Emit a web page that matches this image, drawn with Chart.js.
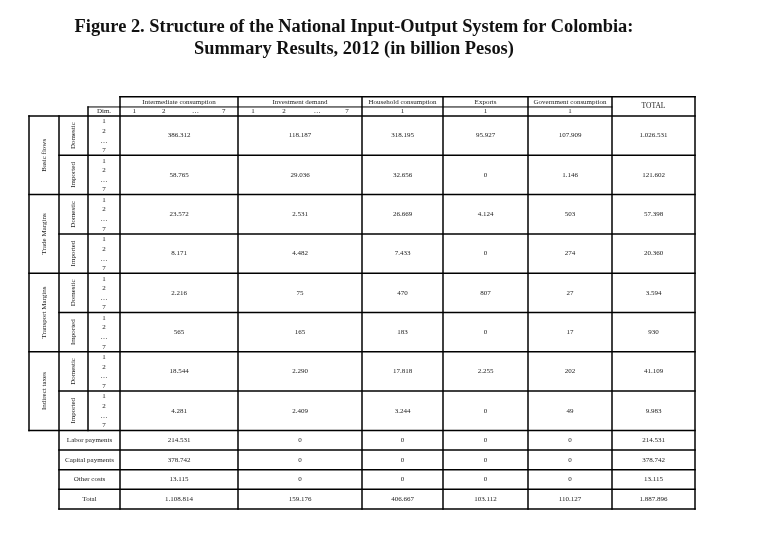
<!DOCTYPE html>
<html>
<head>
<meta charset="utf-8">
<script src="https://cdn.jsdelivr.net/npm/chart.js@4.4.1/dist/chart.umd.min.js"></script>
<style>
  body { margin: 0; background: #fff; }
  #wrap { position: relative; width: 757px; height: 554px; }
  #title {
    position: absolute; left: 0; top: 15px; width: 708px;
    text-align: center; font: bold 18.4px/22px "Liberation Serif", "DejaVu Serif", serif; color: #111;
  }
  canvas { position: absolute; left: 0; top: 0; }
</style>
</head>
<body>
<div id="wrap">
  <canvas id="io-table" width="757" height="554"></canvas>
  <div id="title">Figure 2. Structure of the National Input-Output System for Colombia:<br>Summary Results, 2012 (in billion Pesos)</div>
</div>
<script>
'use strict';

// Table content (billion pesos)
const columns = ['Intermediate consumption', 'Investment demand', 'Household consumption', 'Exports', 'Government consumption', 'TOTAL'];
const columnDims = [['1', '2', '…', '7'], ['1', '2', '…', '7'], ['1'], ['1'], ['1'], []];
const groups = ['Basic flows', 'Trade Margins', 'Transport Margins', 'Indirect taxes'];
const origins = ['Domestic', 'Imported'];
const rowDims = ['1', '2', '…', '7'];
const summaryRows = ['Labor payments', 'Capital payments', 'Other costs', 'Total'];

const basicDomestic = [386312, 118187, 318195, 95927, 107909, 1026531];
const basicImported = [58765, 29036, 32656, 0, 1146, 121602];
const tradeDomestic = [23572, 2531, 26669, 4124, 503, 57398];
const tradeImported = [8171, 4482, 7433, 0, 274, 20360];
const transportDomestic = [2216, 75, 470, 807, 27, 3594];
const transportImported = [565, 165, 183, 0, 17, 930];
const taxesDomestic = [18544, 2290, 17818, 2255, 202, 41109];
const taxesImported = [4281, 2409, 3244, 0, 49, 9983];
const laborPayments = [214531, 0, 0, 0, 0, 214531];
const capitalPayments = [378742, 0, 0, 0, 0, 378742];
const otherCosts = [13115, 0, 0, 0, 0, 13115];
const totals = [1108814, 159176, 406667, 103112, 110127, 1887896];

const blockRows = [basicDomestic, basicImported, tradeDomestic, tradeImported,
  transportDomestic, transportImported, taxesDomestic, taxesImported];
const footRows = [laborPayments, capitalPayments, otherCosts, totals];

document.addEventListener('DOMContentLoaded', function () {
  // layout (x in nominal px units, y in block units)
  const colWidths = [118, 124, 81, 85, 84, 83];
  const colEdges = [0];
  colWidths.forEach(function (w) { colEdges.push(colEdges[colEdges.length - 1] + w); });
  const xRight = colEdges[colEdges.length - 1];
  const xGroup = -91, xOrigin = -61, xDim = -32;
  const yHeadTop = -0.49, yHeadMid = -0.23;
  const footH = 0.5;
  const yBottom = blockRows.length + footRows.length * footH;
  const dimFrac = [0.14, 0.38, 0.63, 0.87];
  const headDimFrac = [0.12, 0.37, 0.64, 0.88];

  const serif = '"Liberation Serif", "DejaVu Serif", serif';
  const ink = '#1a1a1a';

  function fmt(v) {
    return String(v).replace(/\B(?=(\d{3})+(?!\d))/g, '.');
  }
  function colCenter(c) { return (colEdges[c] + colEdges[c + 1]) / 2; }

  const points = [];
  blockRows.forEach(function (row, r) {
    row.forEach(function (v, c) { points.push({ x: colCenter(c), y: r + 0.5, v: v }); });
  });
  footRows.forEach(function (row, r) {
    row.forEach(function (v, c) {
      points.push({ x: colCenter(c), y: blockRows.length + (r + 0.5) * footH, v: v });
    });
  });

  const tablePlugin = {
    id: 'ioTable',
    afterDatasetsDraw: function (chart) {
      const ctx = chart.ctx;
      const xs = chart.scales.x, ys = chart.scales.y;
      const px = function (v) { return xs.getPixelForValue(v); };
      const py = function (v) { return ys.getPixelForValue(v); };

      ctx.save();
      ctx.strokeStyle = '#000';
      ctx.lineCap = 'square';

      function hline(y, x0, x1, w) {
        ctx.lineWidth = w || 1.5;
        ctx.beginPath(); ctx.moveTo(px(x0), py(y)); ctx.lineTo(px(x1), py(y)); ctx.stroke();
      }
      function vline(x, y0, y1, w) {
        ctx.lineWidth = w || 1.5;
        ctx.beginPath(); ctx.moveTo(px(x), py(y0)); ctx.lineTo(px(x), py(y1)); ctx.stroke();
      }

      // horizontal rules
      hline(yHeadTop, 0, xRight);
      hline(yHeadMid, 0, colEdges[5], 1);
      hline(yHeadMid, xDim, 0, 1);
      hline(0, xGroup, xRight);
      for (let k = 1; k <= blockRows.length; k++) {
        hline(k, k % 2 === 0 ? xGroup : xOrigin, xRight);
      }
      for (let k = 1; k <= footRows.length; k++) {
        hline(blockRows.length + k * footH, xOrigin, xRight);
      }

      // vertical rules
      vline(xGroup, 0, blockRows.length);
      vline(xOrigin, 0, yBottom);
      vline(xDim, yHeadMid, blockRows.length);
      colEdges.forEach(function (e) { vline(e, yHeadTop, yBottom); });

      // header text
      ctx.fillStyle = ink;
      ctx.textAlign = 'center';
      ctx.textBaseline = 'middle';
      ctx.font = '7px ' + serif;
      columns.forEach(function (name, c) {
        if (c === columns.length - 1) {
          ctx.font = '7.5px ' + serif;
          ctx.fillText(name, px(colCenter(c)), py((yHeadTop + 0) / 2));
          ctx.font = '7px ' + serif;
        } else {
          ctx.fillText(name, px(colCenter(c)), py((yHeadTop + yHeadMid) / 2));
        }
        const dims = columnDims[c];
        const yMid = py(yHeadMid / 2);
        if (dims.length === 1) {
          ctx.fillText(dims[0], px(colCenter(c)), yMid);
        } else {
          dims.forEach(function (d, i) {
            ctx.fillText(d, px(colEdges[c] + colWidths[c] * headDimFrac[i]), yMid);
          });
        }
      });
      ctx.fillText('Dim.', px(xDim / 2), py(yHeadMid / 2));

      // row headers
      for (let r = 0; r < blockRows.length; r++) {
        rowDims.forEach(function (d, i) {
          ctx.fillText(d, px(xDim / 2), py(r + dimFrac[i]));
        });
        ctx.save();
        ctx.translate(px((xOrigin + xDim) / 2), py(r + 0.5));
        ctx.rotate(-Math.PI / 2);
        ctx.fillText(origins[r % 2], 0, 0);
        ctx.restore();
      }
      groups.forEach(function (g, i) {
        ctx.save();
        ctx.translate(px((xGroup + xOrigin) / 2), py(2 * i + 1));
        ctx.rotate(-Math.PI / 2);
        ctx.fillText(g, 0, 0);
        ctx.restore();
      });
      summaryRows.forEach(function (name, i) {
        ctx.fillText(name, px(xOrigin / 2), py(blockRows.length + (i + 0.5) * footH));
      });

      // cell values at the dataset points
      const meta = chart.getDatasetMeta(0);
      meta.data.forEach(function (el, i) {
        ctx.fillText(fmt(points[i].v), el.x, el.y);
      });
      ctx.restore();
    }
  };

  new Chart(document.getElementById('io-table'), {
    type: 'scatter',
    data: {
      datasets: [{
        label: 'values',
        data: points,
        pointRadius: 0,
        pointHoverRadius: 0
      }]
    },
    options: {
      responsive: false,
      animation: false,
      layout: { padding: { left: 120, right: 62, top: 116, bottom: 45 } },
      scales: {
        x: { type: 'linear', display: false, min: 0, max: xRight },
        y: { type: 'linear', display: false, reverse: true, min: 0, max: yBottom }
      },
      plugins: {
        legend: { display: false },
        tooltip: { enabled: false }
      }
    },
    plugins: [tablePlugin]
  });
});
</script>
</body>
</html>
